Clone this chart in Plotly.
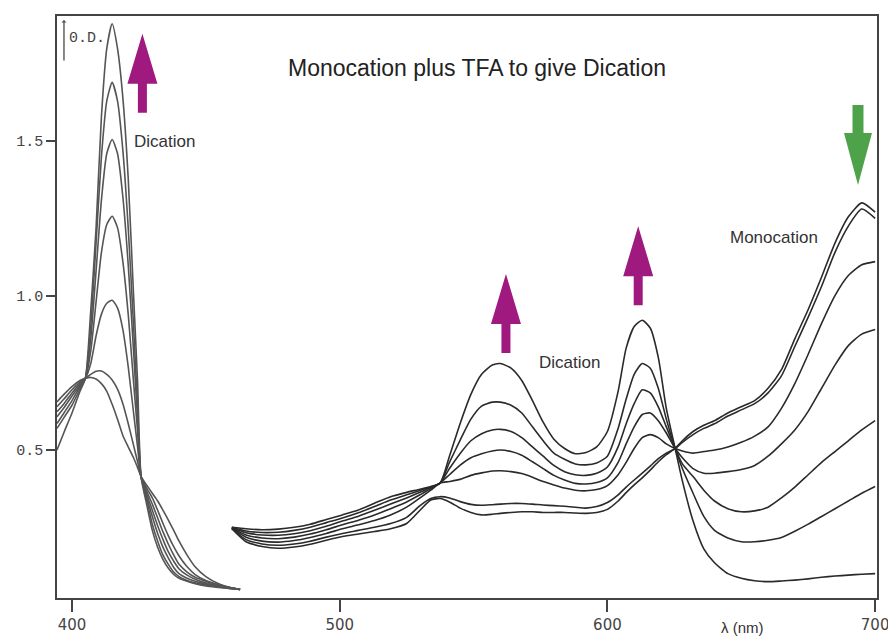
import plotly.graph_objects as go

# ---------------- data ----------------
wl_left = [394.4, 397, 400, 403, 405, 407, 409, 411, 413, 415, 417, 419, 421, 423, 424.5,
           425.8, 428, 430, 432, 434, 436, 438, 440, 443, 446, 450, 455, 459, 462.8]

wl_right = [459.7, 465, 471, 477, 483, 489, 495, 501, 507, 513, 519, 525, 530, 534, 537.5,
            541, 545, 549, 553, 557, 560, 564, 568, 572, 576, 580, 584, 588, 592, 596,
            600, 604, 607, 610, 613, 616, 619, 622, 625.3, 628, 632, 636, 640, 645, 650,
            655, 660, 665, 670, 675, 680, 685, 690, 695, 700]

# curve 1 = monocation ... curve 7 = dication (increasing TFA)
c1_left = [0.656, 0.68, 0.705, 0.725, 0.732, 0.735, 0.73, 0.715, 0.69, 0.648, 0.6, 0.547, 0.51, 0.475, 0.443,
           0.414, 0.385, 0.36, 0.335, 0.305, 0.273, 0.24, 0.205, 0.16, 0.122, 0.09, 0.066, 0.055, 0.049]
c2_left = [0.64, 0.665, 0.695, 0.72, 0.732, 0.745, 0.755, 0.756, 0.745, 0.727, 0.697, 0.65, 0.586, 0.515, 0.462,
           0.414, 0.375, 0.345, 0.305, 0.262, 0.222, 0.187, 0.157, 0.122, 0.097, 0.078, 0.064, 0.055, 0.049]
c3_left = [0.624, 0.65, 0.685, 0.715, 0.732, 0.78, 0.87, 0.94, 0.975, 0.985, 0.96, 0.89, 0.77, 0.62, 0.51,
           0.414, 0.365, 0.325, 0.28, 0.235, 0.195, 0.16, 0.13, 0.105, 0.088, 0.075, 0.062, 0.055, 0.049]
c4_left = [0.608, 0.637, 0.675, 0.71, 0.732, 0.82, 0.98, 1.14, 1.23, 1.257, 1.22, 1.11, 0.94, 0.72, 0.56,
           0.414, 0.355, 0.305, 0.255, 0.21, 0.17, 0.14, 0.115, 0.095, 0.082, 0.07, 0.06, 0.054, 0.049]
c5_left = [0.586, 0.62, 0.66, 0.705, 0.732, 0.86, 1.08, 1.31, 1.46, 1.505, 1.46, 1.32, 1.10, 0.82, 0.60,
           0.414, 0.345, 0.285, 0.23, 0.185, 0.15, 0.12, 0.10, 0.085, 0.075, 0.066, 0.058, 0.053, 0.049]
c6_left = [0.57, 0.605, 0.645, 0.698, 0.732, 0.90, 1.17, 1.45, 1.63, 1.69, 1.63, 1.47, 1.22, 0.90, 0.64,
           0.414, 0.335, 0.26, 0.205, 0.16, 0.13, 0.105, 0.09, 0.078, 0.07, 0.063, 0.056, 0.052, 0.049]
c7_left = [0.50, 0.557, 0.62, 0.69, 0.732, 0.95, 1.22, 1.58, 1.80, 1.88, 1.80, 1.64, 1.38, 1.00, 0.72,
           0.414, 0.32, 0.24, 0.185, 0.145, 0.117, 0.097, 0.085, 0.075, 0.067, 0.06, 0.055, 0.051, 0.049]

c1_right = [0.245, 0.203, 0.188, 0.182, 0.186, 0.195, 0.208, 0.22, 0.228, 0.236, 0.245, 0.262, 0.305, 0.338, 0.343,
            0.332, 0.312, 0.298, 0.29, 0.292, 0.295, 0.298, 0.30, 0.30, 0.298, 0.298, 0.298, 0.296, 0.295, 0.298,
            0.308, 0.335, 0.362, 0.387, 0.41, 0.435, 0.462, 0.485, 0.505, 0.53, 0.56, 0.58, 0.595, 0.62, 0.64,
            0.66, 0.70, 0.76, 0.86, 0.955, 1.06, 1.17, 1.255, 1.30, 1.27]
c2_right = [0.246, 0.21, 0.196, 0.192, 0.196, 0.205, 0.218, 0.23, 0.24, 0.25, 0.262, 0.282, 0.32, 0.343, 0.349,
            0.345, 0.333, 0.324, 0.321, 0.323, 0.325, 0.327, 0.327, 0.325, 0.322, 0.32, 0.318, 0.315, 0.312, 0.317,
            0.33, 0.355, 0.38, 0.403, 0.425, 0.448, 0.472, 0.49, 0.505, 0.525, 0.55, 0.57, 0.585, 0.61, 0.63,
            0.65, 0.685, 0.74, 0.835, 0.93, 1.03, 1.14, 1.225, 1.28, 1.25]
c3_right = [0.247, 0.218, 0.205, 0.202, 0.207, 0.217, 0.23, 0.245, 0.258, 0.272, 0.29, 0.315, 0.345, 0.37, 0.393,
            0.398, 0.405, 0.418, 0.426, 0.432, 0.433, 0.43, 0.424, 0.412, 0.398, 0.387, 0.377, 0.37, 0.368, 0.372,
            0.385, 0.42, 0.46, 0.505, 0.54, 0.55, 0.54, 0.52, 0.505, 0.497, 0.49, 0.495, 0.50, 0.51, 0.525,
            0.545, 0.575, 0.635, 0.715, 0.81, 0.91, 1.00, 1.065, 1.10, 1.11]
c4_right = [0.248, 0.225, 0.215, 0.213, 0.218, 0.228, 0.242, 0.258, 0.273, 0.29, 0.31, 0.332, 0.355, 0.375, 0.393,
            0.42, 0.451, 0.475, 0.488, 0.497, 0.50, 0.495, 0.483, 0.462, 0.44, 0.418, 0.403, 0.392, 0.39, 0.395,
            0.41, 0.46, 0.52, 0.575, 0.615, 0.62, 0.595, 0.555, 0.505, 0.475, 0.44, 0.425, 0.425, 0.43, 0.437,
            0.45, 0.48, 0.52, 0.565, 0.625, 0.70, 0.775, 0.838, 0.875, 0.89]
c5_right = [0.249, 0.232, 0.225, 0.224, 0.229, 0.239, 0.253, 0.27, 0.286, 0.305, 0.325, 0.345, 0.363, 0.379, 0.393,
            0.44, 0.489, 0.53, 0.553, 0.565, 0.567, 0.56, 0.54, 0.51, 0.48, 0.45, 0.43, 0.42, 0.418, 0.425,
            0.445, 0.51, 0.585, 0.65, 0.695, 0.685, 0.64, 0.575, 0.505, 0.455, 0.414, 0.37, 0.335, 0.31, 0.30,
            0.303, 0.315, 0.345, 0.38, 0.42, 0.46, 0.495, 0.53, 0.565, 0.595]
c6_right = [0.25, 0.238, 0.233, 0.234, 0.24, 0.25, 0.265, 0.28, 0.297, 0.317, 0.338, 0.355, 0.369, 0.38, 0.393,
            0.46, 0.532, 0.60, 0.642, 0.655, 0.655, 0.645, 0.62, 0.575, 0.53, 0.49, 0.47, 0.455, 0.452, 0.458,
            0.48, 0.57, 0.665, 0.745, 0.78, 0.765, 0.70, 0.60, 0.505, 0.44, 0.36, 0.285, 0.24, 0.215, 0.203,
            0.203, 0.208, 0.217, 0.237, 0.26, 0.285, 0.31, 0.335, 0.36, 0.382]
c7_right = [0.25, 0.245, 0.242, 0.244, 0.25, 0.26, 0.275, 0.29, 0.306, 0.328, 0.349, 0.363, 0.373, 0.382, 0.393,
            0.48, 0.586, 0.68, 0.745, 0.775, 0.78, 0.765, 0.725, 0.66, 0.59, 0.535, 0.505, 0.488, 0.492, 0.51,
            0.56, 0.69, 0.83, 0.90, 0.92, 0.895, 0.80, 0.635, 0.505, 0.40, 0.27, 0.18, 0.135, 0.10, 0.085,
            0.077, 0.074, 0.076, 0.079, 0.083, 0.088, 0.092, 0.095, 0.098, 0.10]

left_curves = [c1_left, c2_left, c3_left, c4_left, c5_left, c6_left, c7_left]
right_curves = [c1_right, c2_right, c3_right, c4_right, c5_right, c6_right, c7_right]

# arrows: wavelength, OD at arrow base (tail)
up_arrow_nm = [426.3, 562.1, 611.5]
up_arrow_od = [1.592, 0.814, 0.969]
down_arrow_nm = [693.6]
down_arrow_od = [1.617]

x_ticks = [400, 500, 600, 700]
y_ticks = [0.5, 1.0, 1.5]
y_ticktext = ["0.5", "1.0", "1.5"]

# ---------------- figure ----------------
fig = go.Figure()
for yl in left_curves:
    fig.add_trace(go.Scatter(x=wl_left, y=yl, mode="lines",
                             line=dict(color="#555555", width=1.6, shape="spline", smoothing=0.6),
                             hoverinfo="skip"))
for yr in right_curves:
    fig.add_trace(go.Scatter(x=wl_right, y=yr, mode="lines",
                             line=dict(color="#2a2a2a", width=1.6, shape="spline", smoothing=0.6),
                             hoverinfo="skip"))

shapes = []
up_path = "M -4.5 0 L 4.5 0 L 4.5 29 L 15 29 L 0 79 L -15 29 L -4.5 29 Z"
for xa, ya in zip(up_arrow_nm, up_arrow_od):
    shapes.append(dict(type="path", xref="x", yref="y", xsizemode="pixel", ysizemode="pixel",
                       xanchor=xa, yanchor=ya, path=up_path,
                       fillcolor="#A0197F", line=dict(width=0)))
down_path = "M -5.5 0 L 5.5 0 L 5.5 -28 L 14 -28 L 0 -80 L -14 -28 L -5.5 -28 Z"
for xa, ya in zip(down_arrow_nm, down_arrow_od):
    shapes.append(dict(type="path", xref="x", yref="y", xsizemode="pixel", ysizemode="pixel",
                       xanchor=xa, yanchor=ya, path=down_path,
                       fillcolor="#4EA34A", line=dict(width=0)))

label_font = dict(family="Liberation Sans, Arial, sans-serif", size=17, color="#333333")


def label(text, x, y, font):
    return dict(text=text, x=x, y=y, xref="paper", yref="paper", showarrow=False,
                xanchor="center", yanchor="middle", font=font)


annotations = [
    label("Monocation plus TFA to give Dication", 0.512, 0.911,
          dict(family="Liberation Sans, Arial, sans-serif", size=23, color="#222222")),
    label("Dication", 0.1305, 0.785, label_font),
    label("Dication", 0.6256, 0.404, label_font),
    label("Monocation", 0.8744, 0.6186, label_font),
    label("λ (nm)", 0.8354, -0.0515, dict(family="Liberation Sans, Arial, sans-serif", size=15, color="#333333")),
    label("0.D.", 0.0366, 0.962, dict(family="Liberation Mono, DejaVu Sans Mono, monospace", size=15,
                                      color="#444444")),
    dict(text="", x=0.0085, y=0.993, xref="paper", yref="paper", showarrow=True,
         ax=0, ay=42, arrowhead=1, arrowsize=0.6, arrowwidth=1.4, arrowcolor="#555555"),
]

fig.update_layout(
    width=888, height=636,
    margin=dict(l=57, r=11, t=16, b=38, autoexpand=False),
    paper_bgcolor="white", plot_bgcolor="white",
    showlegend=False,
    shapes=shapes,
    annotations=annotations,
    xaxis=dict(range=[394.4, 700.7], tickvals=x_ticks, ticks="outside", ticklen=12, tickwidth=1.5,
               tickcolor="#444444", showline=True, linecolor="#444444", linewidth=1.5, mirror=True,
               showgrid=False, zeroline=False, automargin=False, ticklabeloverflow="allow",
               tickfont=dict(family="DejaVu Sans, sans-serif", size=15, color="#444444")),
    yaxis=dict(range=[0.021, 1.905], tickvals=y_ticks, ticktext=y_ticktext, ticks="outside", ticklen=9,
               tickwidth=1.5, tickcolor="#444444", showline=True, linecolor="#444444", linewidth=1.5,
               mirror=True, showgrid=False, zeroline=False, automargin=False, ticklabeloverflow="allow",
               tickfont=dict(family="Liberation Mono, DejaVu Sans Mono, monospace", size=15, color="#444444")),
)

fig.write_html("out.html")
